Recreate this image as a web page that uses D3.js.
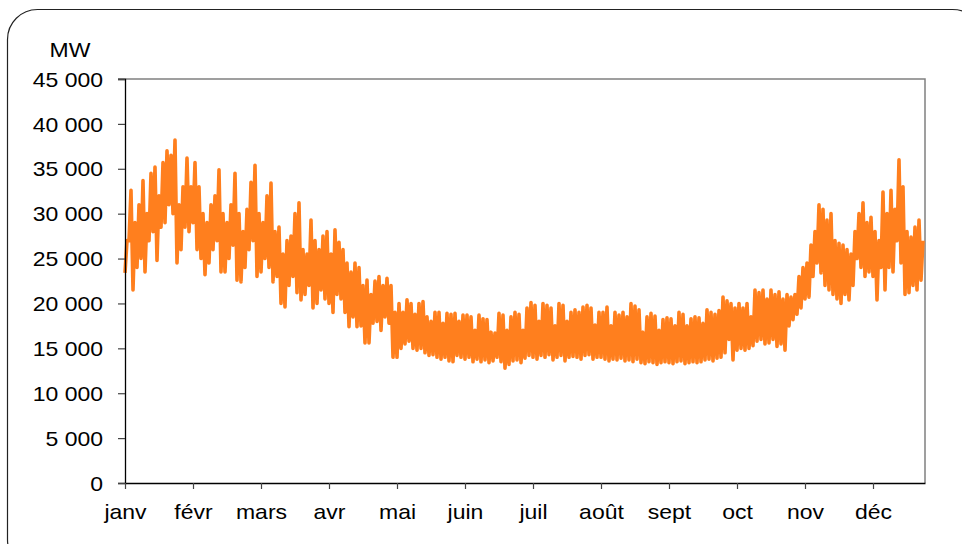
<!DOCTYPE html>
<html>
<head>
<meta charset="utf-8">
<script src="https://cdn.jsdelivr.net/npm/d3@7"></script>
<style>
  body { margin: 0; background: #fff; }
  svg { display: block; font-family: "Liberation Sans", Arial, sans-serif; }
</style>
</head>
<body>
<div id="graphique"></div>
<script>
// mois de l'axe horizontal
var mois = ["janv", "févr", "mars", "avr", "mai", "juin", "juil", "août", "sept", "oct", "nov", "déc"];
// graduations de l'axe vertical (MW)
var graduations = [0, 5000, 10000, 15000, 20000, 25000, 30000, 35000, 40000, 45000];
// nombre d'échantillons par mois
var parMois = 17;

// pointes (MW), 17 par mois
var haut = [
  27000,32600,29000,31000,33700,30000,34500,35200,32000,35700,37000,36500,38200,31000,33000,36200,33000,
  35700,33000,30000,29000,31000,32000,34900,30000,29000,31000,34500,30000,28000,30500,33500,35400,30000,
  29000,32000,33400,28000,28500,25500,27000,27500,30000,31200,26000,25500,29300,27000,26000,27500,28000,
  25500,28200,26800,26000,24500,23500,24500,24000,22000,22600,21000,22500,23000,22000,22800,22000,19000,
  20000,19000,20400,20000,18800,20000,20200,18500,18000,19000,19000,17800,18900,18800,18900,18000,18700,
  18700,18500,17000,18700,18300,18200,16800,16700,18900,18700,17000,18500,19000,18800,17000,19500,20100,
  19800,18000,20000,19800,19500,17500,20000,19800,18000,19000,19300,19000,19600,19800,19500,17600,19000,
  19000,19600,17500,19000,18700,19000,18500,20000,19700,19300,16800,18500,18900,18600,17000,18200,18400,
  18300,17500,19000,18800,17500,18300,18500,18400,17800,19300,19000,18800,19200,20700,20300,20000,19500,
  20000,19500,20000,18500,21500,21200,21500,20500,21500,21000,21300,20500,21000,20700,21000,23000,24000,
  24500,26500,28000,31000,30500,29300,30000,27000,26700,26500,26000,25500,28000,30000,31200,29000,29600,
  28000,27000,32400,30000,32600,30500,36000,33000,28000,27400,28500,29300,27000
];
// creux (MW)
var bas = [
  23400,27000,21500,24000,25000,23500,27000,28000,24800,28500,29000,31000,30000,24500,26000,28500,28000,
  29000,26000,25000,23200,24500,26000,27000,23500,23500,25000,26500,22600,22400,24000,26000,27000,23000,
  23500,25000,24000,22400,23000,20000,19600,22000,23000,21200,20400,21000,22000,19500,20000,21500,20500,
  20000,19000,21000,20500,19000,17400,18500,17400,17500,15600,15600,17800,18000,17000,18500,17800,14000,
  14000,15000,15500,15800,15000,14800,15000,14500,14200,14300,14000,13800,14000,13600,13500,14200,14000,
  13800,14000,13500,13800,13500,13700,13400,13600,14000,13500,12800,13200,13600,13700,13400,13900,14200,
  14000,13800,14200,14000,14300,13700,14000,14200,13600,14000,14100,14000,13800,14200,14300,13800,14000,
  14000,13800,13600,13800,13700,13900,13600,13700,13500,13800,13400,13300,13500,13400,13200,13400,13500,
  13400,13300,13500,13600,13300,13400,13500,13400,13500,13700,13800,13600,13900,14000,14500,16000,13700,
  14800,15000,14800,15000,15300,15800,16000,15500,15600,16000,15200,15500,14800,17500,18200,18800,19500,
  20500,20700,23000,24500,23400,22000,21500,21000,20500,20000,21000,20400,22000,25000,24000,23000,23500,
  23000,20400,24000,21500,24000,23500,27000,24500,21000,21200,22000,21500,22600
];

var width = 962, height = 544;
var margin = { top: 79, right: 37, bottom: 61, left: 125 };
var etirement = 1.15; // le texte de l'original est un peu élargi

var fr = d3.formatLocale({ decimal: ",", thousands: " ", grouping: [3], currency: ["", " €"] });

// alternance creux / pointe pour chaque échantillon
var points = [];
haut.forEach(function (h, i) {
  points.push({ t: i / parMois, v: bas[i] });
  points.push({ t: (i + 0.5) / parMois, v: h });
});

const svg = d3.select("#graphique")
  .append("svg")
  .attr("width", width)
  .attr("height", height);

// cadre arrondi
svg.append("rect")
  .attr("x", 7.5).attr("y", 9.5)
  .attr("width", 975).attr("height", 560)
  .attr("rx", 30).attr("ry", 30)
  .attr("fill", "none")
  .attr("stroke", "#222")
  .attr("stroke-width", 1.2);

const x = d3.scaleLinear()
  .domain([0, haut.length / parMois])
  .range([margin.left, width - margin.right]);

const y = d3.scaleLinear()
  .domain([0, 45000])
  .range([height - margin.bottom, margin.top]);

// bords haut et droit gris
svg.append("path")
  .attr("d", `M${margin.left - 7},${margin.top}H${width - margin.right}V${height - margin.bottom}`)
  .attr("fill", "none")
  .attr("stroke", "#808080")
  .attr("stroke-width", 1.5);

// la courbe
svg.append("path")
  .datum(points)
  .attr("fill", "none")
  .attr("stroke", "#ff7f1e")
  .attr("stroke-width", 3.6)
  .attr("stroke-linejoin", "round")
  .attr("d", d3.line().x(d => x(d.t)).y(d => y(d.v)));

function yAxis(g) {
  g.attr("transform", `translate(${margin.left},0)`)
    .call(d3.axisLeft(y).tickValues(graduations).tickFormat(fr.format(",d")).tickSize(7).tickPadding(12));
  g.selectAll("text")
    .attr("transform", `scale(${etirement},1)`)
    .attr("x", -19)
    .attr("dy", "0.36em");
}

function xAxis(g) {
  g.attr("transform", `translate(0,${height - margin.bottom})`)
    .call(d3.axisBottom(x).tickValues(d3.range(mois.length)).tickFormat(i => mois[i]).tickSize(6).tickSizeOuter(0));
  g.selectAll("text")
    .attr("transform", `scale(${etirement},1)`)
    .attr("y", 22)
    .attr("dy", "0.71em");
}

svg.append("g").call(yAxis);
svg.append("g").call(xAxis);

svg.selectAll(".tick line").attr("stroke", "#444").attr("stroke-width", 1.2);
svg.selectAll(".domain").attr("stroke", "#000").attr("stroke-width", 1.3);
svg.selectAll(".tick text").attr("font-size", "20px").attr("fill", "#000")
  .attr("font-family", "'Liberation Sans', Arial, sans-serif");

// unité
svg.append("text")
  .attr("transform", `translate(70,57) scale(${etirement},1)`)
  .attr("text-anchor", "middle")
  .attr("font-size", "20px")
  .text("MW");
</script>
</body>
</html>
